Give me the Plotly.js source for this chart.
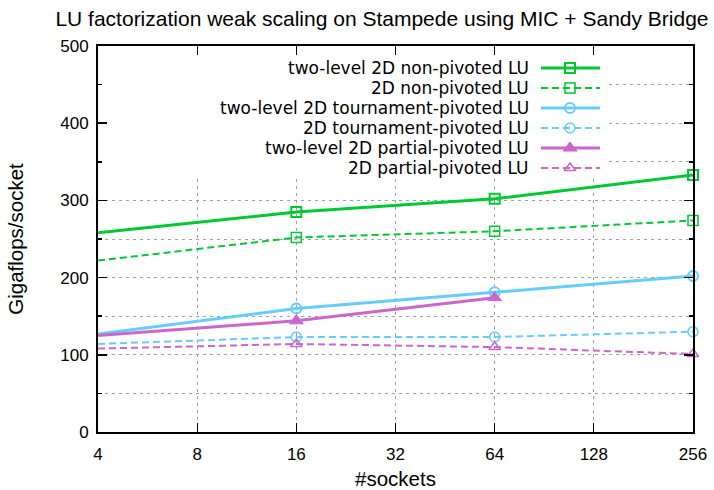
<!DOCTYPE html>
<html>
<head>
<meta charset="utf-8">
<script src="https://cdn.plot.ly/plotly-3.0.1.min.js"></script>
<style>html,body{margin:0;padding:0;background:#fff;}#chart{width:714px;height:490px;}</style>
</head>
<body>
<div id="chart"></div>
<script>
// ---- data ----
const sockets = [4, 16, 64, 256];
const socketsPartial = [4, 16, 64];
const twoLevelNonPiv = [258, 285, 302, 333];
const nonPiv2D = [222, 252, 260, 274];
const twoLevelTourn = [127, 160, 181, 202];
const tourn2D = [114, 123, 123, 130];
const twoLevelPartial = [125, 144, 174];
const partial2D = [108, 114, 110, 101];
const xTicks = [4, 8, 16, 32, 64, 128, 256];
const yTicks = [0, 100, 200, 300, 400, 500];
const seriesNames = [
  'two-level 2D non-pivoted LU',
  '2D non-pivoted LU',
  'two-level 2D tournament-pivoted LU',
  '2D tournament-pivoted LU',
  'two-level 2D partial-pivoted LU',
  '2D partial-pivoted LU'
];

const GREEN = '#00c832', BLUE = '#66ccff', MAG = '#cc66cc';
const styles = [
  {color: GREEN, dash: 'solid', w: 3, sym: 'square-open', size: 10, mlw: 2},
  {color: GREEN, dash: '7px,4px', w: 2, sym: 'square-open', size: 10, mlw: 1.5},
  {color: BLUE, dash: 'solid', w: 3, sym: 'circle-open', size: 10, mlw: 2},
  {color: BLUE, dash: '7px,4px', w: 2, sym: 'circle-open', size: 10, mlw: 1.5},
  {color: MAG, dash: 'solid', w: 3, sym: 'triangle-up', size: 12, mlw: 1},
  {color: MAG, dash: '7px,4px', w: 2, sym: 'triangle-up-open', size: 10, mlw: 1.5}
];
const xs = [sockets, sockets, sockets, sockets, socketsPartial, sockets];
const ys = [twoLevelNonPiv, nonPiv2D, twoLevelTourn, tourn2D, twoLevelPartial, partial2D];

const traces = [];
ys.forEach((y, i) => {
  const s = styles[i];
  traces.push({
    x: xs[i], y: y, type: 'scatter', mode: 'lines+markers', name: seriesNames[i],
    line: {color: s.color, width: s.w, dash: s.dash},
    marker: {symbol: s.sym, size: s.size, color: s.color, line: {color: s.color, width: s.mlw}},
    showlegend: false, cliponaxis: false
  });
});

// ---- custom gnuplot-like key, positioned in pixels and converted to axis units ----
const PL = 98, PR = 693, PT = 46, PB = 432;
const pxToX = px => 4 * Math.pow(2, 6 * (px - PL) / (PR - PL));
const pxToY = py => (PB - py) * 500 / (PB - PT);
const keyTextRight = 530, keyLineX0 = 541, keyLineX1 = 600, keyMarkX = 570;
const keyRowY0 = 68, keyRowStep = 20;
const annotations = [];
seriesNames.forEach((n, i) => {
  const s = styles[i];
  const ry = pxToY(keyRowY0 + i * keyRowStep);
  traces.push({
    x: [pxToX(keyLineX0), pxToX(keyLineX1)], y: [ry, ry], type: 'scatter', mode: 'lines',
    line: {color: s.color, width: s.w, dash: s.dash}, showlegend: false, hoverinfo: 'skip', cliponaxis: false
  });
  traces.push({
    x: [pxToX(keyMarkX)], y: [ry], type: 'scatter', mode: 'markers',
    marker: {symbol: s.sym, size: s.size, color: s.color, line: {color: s.color, width: s.mlw}},
    showlegend: false, hoverinfo: 'skip', cliponaxis: false
  });
  annotations.push({
    xref: 'x', yref: 'y', x: Math.log10(pxToX(keyTextRight)), y: ry, xanchor: 'right', yanchor: 'middle',
    text: n, showarrow: false, borderpad: 0,
    font: {family: 'DejaVu Sans, Liberation Sans, sans-serif', size: 17, color: '#000'}
  });
});

const gridColor = '#a0a0a0';
const layout = {
  width: 714, height: 490,
  margin: {l: PL, r: 714 - PR, t: PT, b: 490 - PB},
  paper_bgcolor: '#fff', plot_bgcolor: '#fff',
  font: {family: 'Liberation Sans, Arial, sans-serif', color: '#000', size: 17},
  showlegend: false,
  title: {
    text: 'LU factorization weak scaling on Stampede using MIC + Sandy Bridge',
    xref: 'container', yref: 'container', x: 0.535, xanchor: 'center', y: 0.962, yanchor: 'middle',
    font: {size: 21, color: '#000'}
  },
  xaxis: {
    type: 'log', range: [Math.log10(4), Math.log10(256)],
    tickvals: xTicks, ticktext: xTicks.map(String),
    ticks: 'inside', ticklen: 9, tickwidth: 1, tickcolor: '#000',
    showline: true, linecolor: '#000', linewidth: 2, mirror: 'ticks',
    showgrid: true, gridcolor: gridColor, griddash: '3px,4px', gridwidth: 1,
    zeroline: false, tickfont: {size: 17}, ticklabelstandoff: 6,
    title: {text: '#sockets', font: {size: 20.5}, standoff: 16}
  },
  yaxis: {
    range: [0, 500], tickvals: yTicks, ticktext: yTicks.map(String),
    ticks: 'inside', ticklen: 9, tickwidth: 1.5, tickcolor: '#000',
    showline: true, linecolor: '#000', linewidth: 2, mirror: 'ticks',
    showgrid: true, gridcolor: gridColor, griddash: '3px,4px', gridwidth: 1,
    minor: {dtick: 50, ticks: 'inside', ticklen: 4, tickcolor: '#000', showgrid: true, gridcolor: gridColor, griddash: '3px,4px', gridwidth: 1},
    zeroline: false, tickfont: {size: 17}, ticklabelstandoff: 4,
    title: {text: 'Gigaflops/socket', font: {size: 20.5}, standoff: 31}
  },
  shapes: [{
    type: 'rect', xref: 'x', yref: 'y',
    x0: pxToX(PL + 1), x1: pxToX(605), y0: pxToY(178), y1: pxToY(PT + 1),
    fillcolor: '#fff', line: {width: 0}, layer: 'between'
  }],
  annotations: annotations
};

Plotly.newPlot('chart', traces, layout, {staticPlot: true, displayModeBar: false});
</script>
</body>
</html>
